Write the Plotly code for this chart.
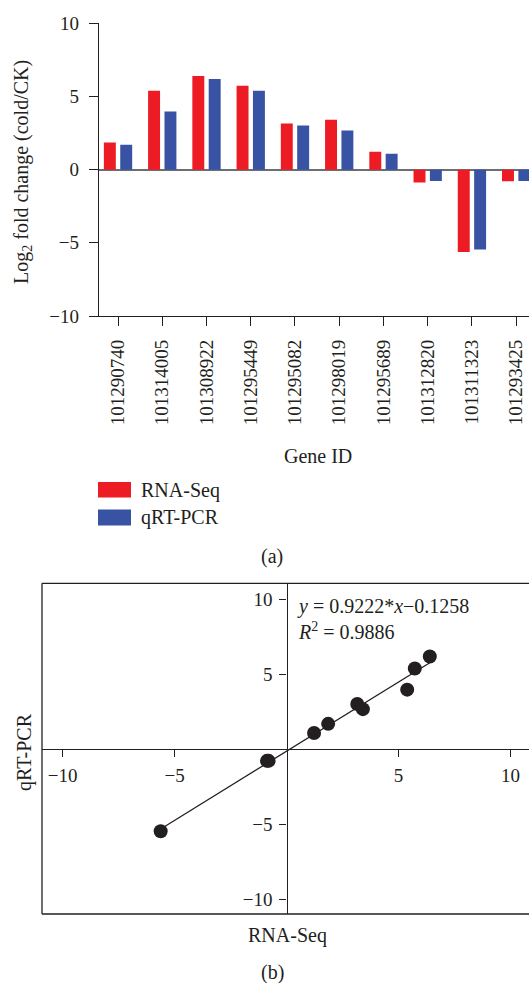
import plotly.graph_objects as go

W, H = 529, 983

genes = ["101290740", "101314005", "101308922", "101295449", "101295082",
         "101298019", "101295689", "101312820", "101311323", "101293425"]
rna_seq = [1.86, 5.39, 6.40, 5.73, 3.16, 3.41, 1.23, -0.87, -5.62, -0.80]
qrt_pcr = [1.70, 3.98, 6.19, 5.39, 3.02, 2.68, 1.09, -0.77, -5.46, -0.77]

fit_slope = 0.9222
fit_intercept = -0.1258
r_squared = 0.9886

RED = "#ed1c24"
BLUE = "#3953a4"
INK = "#231f20"
FONT = "Liberation Serif"


def px(x):
    return x / W


def py(y):
    return 1 - y / H


fig = go.Figure()

# ---- (a) bar chart ----
fig.add_trace(go.Bar(x=genes, y=rna_seq, name="RNA-Seq", marker_color=RED,
                     marker_line_width=0, xaxis="x", yaxis="y", showlegend=False))
fig.add_trace(go.Bar(x=genes, y=qrt_pcr, name="qRT-PCR", marker_color=BLUE,
                     marker_line_width=0, xaxis="x", yaxis="y", showlegend=False))

# ---- (b) scatter ----
fx = [min(rna_seq), max(rna_seq)]
fy = [fit_slope * v + fit_intercept for v in fx]
fig.add_trace(go.Scatter(x=fx, y=fy, mode="lines", line=dict(color=INK, width=1.3),
                         xaxis="x2", yaxis="y2", showlegend=False, hoverinfo="skip"))
fig.add_trace(go.Scatter(x=rna_seq, y=qrt_pcr, mode="markers",
                         marker=dict(size=14, color=INK),
                         xaxis="x2", yaxis="y2", showlegend=False))

# domains
top_x = [px(99), 1]
top_y = [py(316), py(23.3)]
bot_x = [px(42), 1]
bot_y = [py(914), py(583.3)]
bx_range = [-10.92, 10.83]
by_range = [-10.98, 11.07]

x2_pos = bot_y[0] + (0 - by_range[0]) / (by_range[1] - by_range[0]) * (bot_y[1] - bot_y[0])
y2_pos = bot_x[0] + (0 - bx_range[0]) / (bx_range[1] - bx_range[0]) * (bot_x[1] - bot_x[0])

tickfont = dict(family=FONT, size=19, color=INK)

fig.update_layout(
    template="none",
    width=W, height=H,
    margin=dict(l=0, r=0, t=0, b=0, autoexpand=False),
    paper_bgcolor="white", plot_bgcolor="white",
    barmode="group", bargap=0.26, bargroupgap=0.27,
    font=dict(family=FONT, color=INK, size=19),
    xaxis=dict(domain=top_x, anchor="y", type="category", automargin=False,
               range=[-0.43, 9.29], showline=True, linecolor=INK, linewidth=1.3,
               ticks="outside", ticklen=9, tickcolor=INK, tickwidth=1.3,
               tickangle=-90, tickfont=tickfont, ticklabelstandoff=6,
               showgrid=False, zeroline=False),
    yaxis=dict(domain=top_y, anchor="x", range=[-10, 10], automargin=False,
               tickvals=[-10, -5, 0, 5, 10],
               ticktext=["\u221210", "\u22125", "0", "5", "10"],
               showline=True, linecolor=INK, linewidth=1.3,
               ticks="outside", ticklen=9, tickcolor=INK, tickwidth=1.3,
               tickfont=tickfont, ticklabelstandoff=6,
               showgrid=False, zeroline=True, zerolinecolor="#6d6e71",
               zerolinewidth=2),
    xaxis2=dict(domain=bot_x, anchor="free", position=x2_pos, range=bx_range,
                automargin=False,
                tickvals=[-10, -5, 5, 10],
                ticktext=["\u221210", "\u22125", "5", "10"],
                showline=True, linecolor=INK, linewidth=1.3,
                ticks="outside", ticklen=7, tickcolor=INK, tickwidth=1.3,
                tickfont=tickfont, ticklabelstandoff=2,
                showgrid=False, zeroline=False),
    yaxis2=dict(domain=bot_y, anchor="free", position=y2_pos, range=by_range,
                automargin=False,
                tickvals=[-10, -5, 5, 10],
                ticktext=["\u221210", "\u22125", "5", "10"],
                showline=True, linecolor=INK, linewidth=1.3,
                ticks="outside", ticklen=7, tickcolor=INK, tickwidth=1.3,
                tickfont=tickfont, ticklabelstandoff=3,
                showgrid=False, zeroline=False),
)

# frame of (b): left, top, bottom
frame = dict(type="line", xref="x2 domain", yref="y2 domain",
             line=dict(color=INK, width=1.3), layer="above")
fig.add_shape(x0=0, x1=0, y0=0, y1=1, **frame)
fig.add_shape(x0=0, x1=1, y0=1, y1=1, **frame)
fig.add_shape(x0=0, x1=1, y0=0, y1=0, **frame)

# custom legend for (a)
fig.add_shape(type="rect", xref="paper", yref="paper",
              x0=px(98), x1=px(131), y0=py(497.5), y1=py(482),
              fillcolor=RED, line_width=0)
fig.add_shape(type="rect", xref="paper", yref="paper",
              x0=px(98), x1=px(131), y0=py(525.5), y1=py(509.5),
              fillcolor=BLUE, line_width=0)

ann = dict(xref="paper", yref="paper", showarrow=False,
           font=dict(family=FONT, size=20, color=INK))
fig.add_annotation(x=px(139), y=py(490), text="RNA-Seq", xanchor="left", yanchor="middle", **ann)
fig.add_annotation(x=px(139), y=py(517.5), text="qRT-PCR", xanchor="left", yanchor="middle", **ann)

# titles
fig.add_annotation(x=px(22), y=py(172), text="Log<sub>2</sub> fold change (cold/CK)",
                   textangle=-90, xanchor="center", yanchor="middle", **ann)
fig.add_annotation(x=px(318), y=py(456), text="Gene ID", xanchor="center", yanchor="middle", **ann)
fig.add_annotation(x=px(272), y=py(556), text="(a)", xanchor="center", yanchor="middle", **ann)

fig.add_annotation(x=px(24), y=py(752), text="qRT-PCR", textangle=-90,
                   xanchor="center", yanchor="middle", **ann)
fig.add_annotation(x=px(287), y=py(935), text="RNA-Seq", xanchor="center", yanchor="middle", **ann)
fig.add_annotation(x=px(272), y=py(972), text="(b)", xanchor="center", yanchor="middle", **ann)

fig.add_annotation(x=px(295), y=py(593), xanchor="left", yanchor="top", align="left",
                   text=f"<i>y</i> = {fit_slope:.4f}*<i>x</i>\u2212{abs(fit_intercept):.4f}<br>"
                        f"<i>R</i><sup>2</sup> = {r_squared:.4f}", **ann)

fig.write_html("out.html")
